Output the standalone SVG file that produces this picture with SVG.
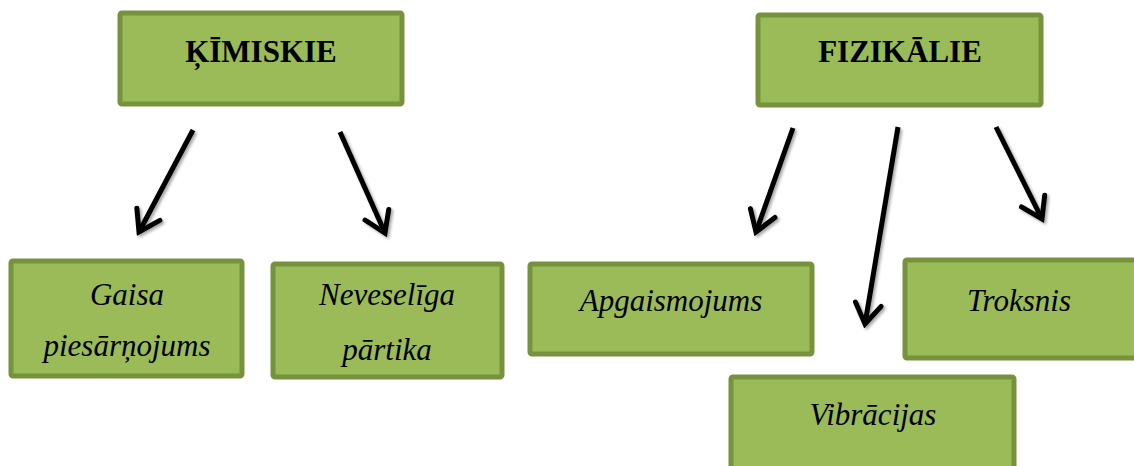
<svg xmlns="http://www.w3.org/2000/svg" width="1134" height="466" viewBox="0 0 1134 466">
<defs>
<style>
.box{fill:#9BBB59;stroke:#76923C;stroke-width:5;}
.t{fill:#000;text-anchor:middle;}
.h{font-family:"Liberation Serif",serif;font-size:31px;font-weight:bold;}
.i{font-family:"Times New Roman",serif;font-size:31px;font-style:italic;}
.arr{stroke:#000;stroke-width:5;fill:none;marker-end:url(#ah);}
</style>
<marker id="ah" markerUnits="userSpaceOnUse" viewBox="-24 -16 28 32" refX="0" refY="0" markerWidth="28" markerHeight="32" orient="auto">
<path d="M-20,-13 L0,0 L-20,13" fill="none" stroke="#000" stroke-width="5" stroke-linejoin="miter" stroke-linecap="round"/>
</marker>
<filter id="sh" x="-20%" y="-20%" width="140%" height="140%">
<feGaussianBlur in="SourceAlpha" stdDeviation="1.5"/>
<feOffset dx="1.5" dy="1.5"/>
<feComponentTransfer><feFuncA type="linear" slope="0.35"/></feComponentTransfer>
<feMerge><feMergeNode/><feMergeNode in="SourceGraphic"/></feMerge>
</filter>
</defs>
<rect width="1134" height="466" fill="#fff"/>
<g id="kimiskie"><rect class="box" x="120" y="13" width="282" height="91" rx="2"/><text class="t h" x="261" y="62">ĶĪMISKIE</text></g>
<g id="fizikalie"><rect class="box" x="758" y="15" width="283" height="90" rx="2"/><text class="t h" x="900" y="62">FIZIKĀLIE</text></g>
<g id="gaisa"><rect class="box" x="11" y="261" width="231" height="115" rx="2"/><text class="t i" x="127" y="305">Gaisa</text><text class="t i" x="127" y="356">piesārņojums</text></g>
<g id="neveseliga"><rect class="box" x="273" y="264" width="229" height="113" rx="2"/><text class="t i" x="387" y="305">Neveselīga</text><text class="t i" x="387" y="360">pārtika</text></g>
<g id="apgaismojums"><rect class="box" x="530" y="264" width="282" height="90" rx="2"/><text class="t i" x="671" y="311">Apgaismojums</text></g>
<g id="troksnis"><rect class="box" x="905" y="260" width="232" height="98" rx="2"/><text class="t i" x="1019" y="311">Troksnis</text></g>
<g id="vibracijas"><rect class="box" x="731" y="377" width="283" height="100" rx="2"/><text class="t i" x="873" y="425">Vibrācijas</text></g>
<g id="connectors" filter="url(#sh)">
<line class="arr" x1="193" y1="130" x2="139" y2="232"/>
<line class="arr" x1="340" y1="132" x2="385" y2="233"/>
<line class="arr" x1="793" y1="128" x2="756" y2="232"/>
<line class="arr" x1="898" y1="127" x2="865" y2="324"/>
<line class="arr" x1="996" y1="127" x2="1042" y2="219"/>
</g>
</svg>
